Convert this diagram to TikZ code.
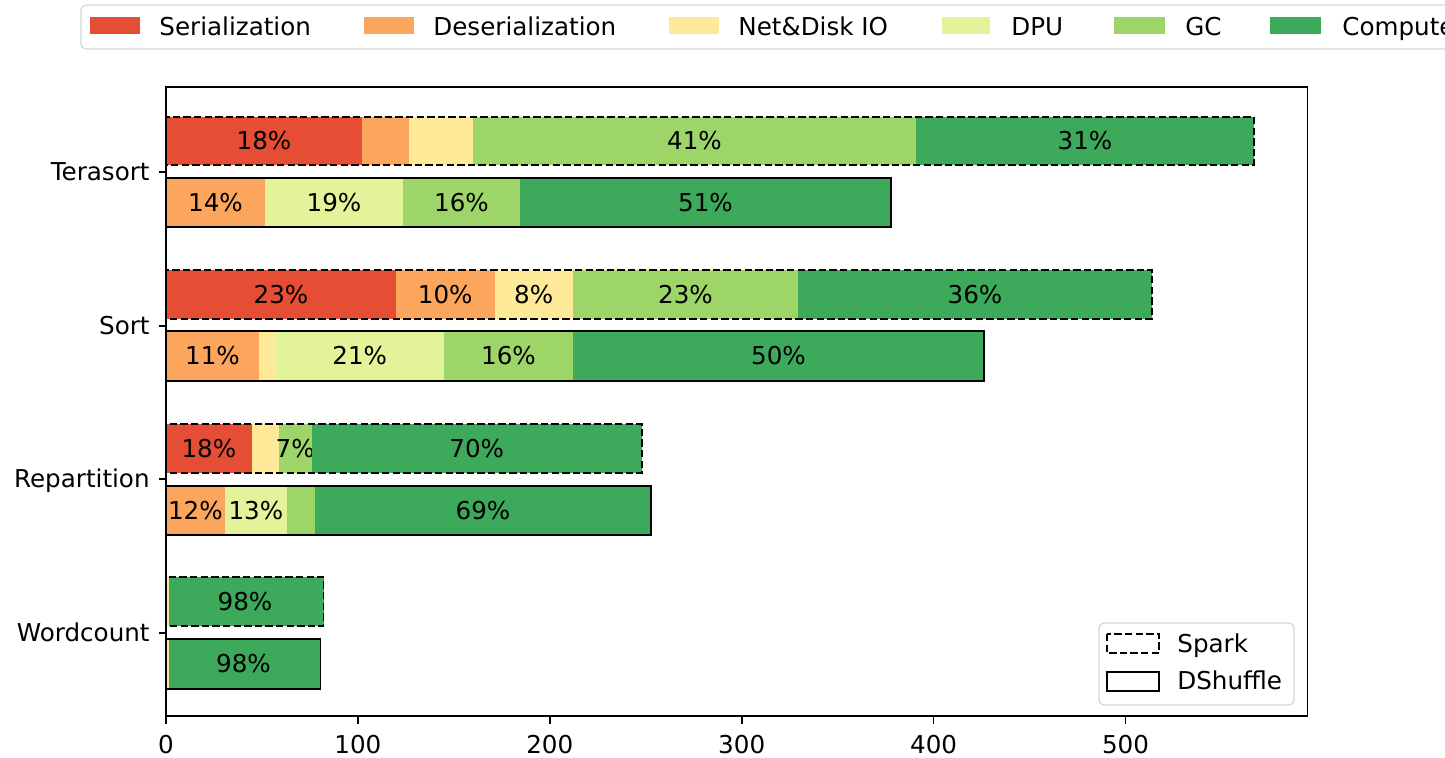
\documentclass[tikz,border=0pt]{standalone}
\usepackage{fontspec}
\setmainfont{DejaVu Sans}

% Stack colours (RdYlGn, six levels)
\definecolor{cSer}{HTML}{E54E35}
\definecolor{cDes}{HTML}{FCA55D}
\definecolor{cIO}{HTML}{FEE999}
\definecolor{cDPU}{HTML}{E3F399}
\definecolor{cGC}{HTML}{9DD569}
\definecolor{cComp}{HTML}{3DA95B}
\definecolor{legedge}{HTML}{D4D4D4}

\tikzset{
  txt/.style={inner sep=0pt,font=\fontsize{12.3}{14}\selectfont,text=black},
  seglabel/.style={txt,anchor=base},
  sparkbar/.style={draw=black,line width=0.9pt,dash pattern=on 3.7pt off 1.6pt},
  dshufbar/.style={draw=black,line width=0.9pt},
  axframe/.style={draw=black,line width=0.8pt},
  tickmark/.style={draw=black,line width=0.8pt},
  legbox/.style={draw=legedge,line width=0.6pt,rounded corners=2.5pt,fill=white},
}

% one coloured piece of a stacked bar: x1, x2, ytop, ybottom, colour
\newcommand\piece[5]{\fill[#5] (#1,#3) rectangle (#2,#4);}
% a piece carrying a percentage label: name, x1, x2, ytop, ybottom, colour, text
\newcommand\labpiece[7]{%
  \fill[#6] (#2,#4) rectangle (#3,#5);
  \node[seglabel] (#1) at ({(#2+#3)/2},{(#4+#5)/2+8.9}) {#7};}

\begin{document}
\begin{tikzpicture}[x=0.5pt,y=-0.5pt]
\useasboundingbox (0,0) rectangle (1445,757);
\clip (0,0) rectangle (1445,757);

% ---------- Terasort ----------
\labpiece{tsA}{166}{362}{117}{165}{cSer}{18\%}
\piece{362}{409}{117}{165}{cDes}
\piece{409}{473}{117}{165}{cIO}
\labpiece{tsB}{473}{916}{117}{165}{cGC}{41\%}
\labpiece{tsC}{916}{1254}{117}{165}{cComp}{31\%}
\draw[sparkbar] (166,117) rectangle (1254,165);

\labpiece{tdA}{166}{265}{178}{227}{cDes}{14\%}
\labpiece{tdB}{265}{403}{178}{227}{cDPU}{19\%}
\labpiece{tdC}{403}{520}{178}{227}{cGC}{16\%}
\labpiece{tdD}{520}{891}{178}{227}{cComp}{51\%}
\draw[dshufbar] (166,178) rectangle (891,227);

% ---------- Sort ----------
\labpiece{ssA}{166}{396}{270}{319}{cSer}{23\%}
\labpiece{ssB}{396}{494.5}{270}{319}{cDes}{10\%}
\labpiece{ssC}{494.5}{573}{270}{319}{cIO}{8\%}
\labpiece{ssD}{573}{798}{270}{319}{cGC}{23\%}
\labpiece{ssE}{798}{1152}{270}{319}{cComp}{36\%}
\draw[sparkbar] (166,270) rectangle (1152,319);

\labpiece{sdA}{166}{259}{331}{381}{cDes}{11\%}
\piece{259}{275.5}{331}{381}{cIO}
\labpiece{sdB}{275.5}{444}{331}{381}{cDPU}{21\%}
\labpiece{sdC}{444}{573}{331}{381}{cGC}{16\%}
\labpiece{sdD}{573}{984}{331}{381}{cComp}{50\%}
\draw[dshufbar] (166,331) rectangle (984,381);

% ---------- Repartition ----------
\labpiece{rsA}{166}{251.7}{424}{473}{cSer}{18\%}
\piece{251.7}{279}{424}{473}{cIO}
\labpiece{rsB}{279}{311.5}{424}{473}{cGC}{7\%}
\labpiece{rsC}{311.5}{642}{424}{473}{cComp}{70\%}
\draw[sparkbar] (166,424) rectangle (642,473);

\labpiece{rdA}{166}{224.7}{486}{535}{cDes}{12\%}
\labpiece{rdB}{224.7}{287}{486}{535}{cDPU}{13\%}
\piece{287}{315}{486}{535}{cGC}
\labpiece{rdC}{315}{651}{486}{535}{cComp}{69\%}
\draw[dshufbar] (166,486) rectangle (651,535);

% ---------- Wordcount ----------
\piece{166}{168.5}{577}{626}{cIO}
\piece{168.5}{323.5}{577}{626}{cComp}
\node[seglabel] (wsA) at (245,610.4) {98\%};
\draw[sparkbar] (166,577) rectangle (323.5,626);

\piece{166}{168.5}{639}{689}{cIO}
\piece{168.5}{320.5}{639}{689}{cComp}
\node[seglabel] (wdA) at (243.5,672.9) {98\%};
\draw[dshufbar] (166,639) rectangle (320.5,689);

% ---------- axes ----------
\draw[axframe] (166,87) rectangle (1307.5,716);
\foreach \yy/\nm/\lab in {172/yT/Terasort,326/yS/Sort,479/yR/Repartition,633/yW/Wordcount}{
  \draw[tickmark] (158.5,\yy) -- (166,\yy);
  \node[txt,anchor=base east] (\nm) at (150,\yy+8.9) {\lab};
}
\foreach \k/\lab in {0/0,1/100,2/200,3/300,4/400,5/500}{
  \draw[tickmark] ({166+191.9*\k},716) -- ({166+191.9*\k},723.5);
  \node[txt,anchor=base] (x\k) at ({166+191.9*\k},753.5) {\lab};
}

% ---------- category legend (top) ----------
\draw[legbox] (81,5) rectangle (1470,49);
\foreach \xa/\xb/\col/\tx/\lab/\nm in {
  89.5/139.5/cSer/159/Serialization/lgA,
  364/414/cDes/433/Deserialization/lgB,
  669/719/cIO/738/Net\&Disk IO/lgC,
  942/990/cDPU/1011/DPU/lgD,
  1114/1165/cGC/1185/GC/lgE,
  1270/1321/cComp/1342/Compute/lgF}{
  \fill[\col] (\xa,17) rectangle (\xb,34);
  \node[txt,anchor=base west] (\nm) at (\tx,35.5) {\lab};
}

% ---------- run legend (lower right) ----------
\draw[legbox] (1099,623) rectangle (1294,705);
\draw[sparkbar,fill=white] (1107,634) rectangle (1159,653);
\draw[dshufbar,fill=white] (1107,672) rectangle (1159,691);
\node[txt,anchor=base west] (lgSpark) at (1177,652.5) {Spark};
\node[txt,anchor=base west] (lgDsh) at (1177,689.5) {DShuffle};
\end{tikzpicture}
\end{document}
